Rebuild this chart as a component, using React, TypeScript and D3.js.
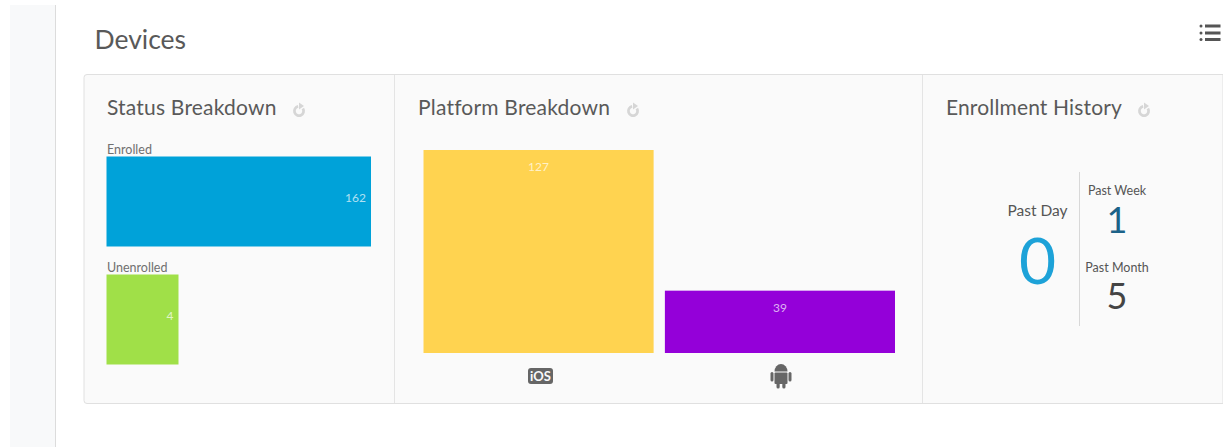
import React from "react";
import * as d3 from "d3";

const statusLabels = ["Enrolled", "Unenrolled"];
const statusValues = [162, 4];
const statusColors = ["#00a2d9", "#a0e048"];
const platformLabels = ["iOS", "Android"];
const platformValues = [127, 39];
const platformColors = ["#ffd350", "#9400d9"];
const historyItems = [
  { label: "Past Week", value: 1, color: "#1c6288" },
  { label: "Past Month", value: 5, color: "#444444" },
];
const pastDay = { label: "Past Day", value: 0 };

const FONT = "Lato, 'Noto Sans', sans-serif";
const TITLE = "#595959";

function Refresh({ x, y }: { x: number; y: number }) {
  const arc = d3.arc()({ innerRadius: 3.2, outerRadius: 6, startAngle: 1.0, endAngle: 6.1 }) as string;
  return (
    <g transform={`translate(${x},${y + 1})`} fill="#d6d6d6">
      <path d={arc} />
      <path d="M0,-8.5 L5,-5 L0,-1.5 Z" />
    </g>
  );
}

function AndroidIcon({ x, y }: { x: number; y: number }) {
  return (
    <g transform={`translate(${x},${y})`} fill="#666666">
      <path d="M-6.5,-3.5 A6.5,7.5 0 0 1 6.5,-3.5 Z" />
      <rect x={-6.5} y={-2.5} width={13} height={11.5} rx={1} />
      <rect x={-10.5} y={-3} width={3} height={9.5} rx={1.5} />
      <rect x={7.5} y={-3} width={3} height={9.5} rx={1.5} />
      <rect x={-4.5} y={8} width={3.2} height={5.5} rx={1.5} />
      <rect x={1.3} y={8} width={3.2} height={5.5} rx={1.5} />
    </g>
  );
}

export default function App() {
  const statusX = d3.scaleLinear().domain([4, 162]).range([72, 264.5]);
  const statusY = d3.scaleOrdinal<string, number>().domain(statusLabels).range([156.5, 274.5]);
  const platformX = d3.scaleBand().domain(platformLabels).range([423.5, 895]).paddingInner(0.0467);
  const platformH = d3.scaleLinear().domain([0, 127]).range([0, 203]);
  const baseY = 353;

  return (
    <svg
      width={1223}
      height={447}
      style={{ position: "absolute", left: 0, top: 0, fontFamily: FONT, background: "#fff" }}
    >
      <rect x={10} y={5} width={45} height={442} fill="#f8f9fa" />
      <line x1={55.5} x2={55.5} y1={5} y2={447} stroke="#dcdcdc" />

      <text x={94.5} y={49} fontSize={26.5} fill={TITLE}>Devices</text>
      <g fill="#555">
        {[26, 33, 39.5].map((y) => (
          <g key={y}>
            <rect x={1199.5} y={y - 1.5} width={3} height={3} rx={1.5} />
            <rect x={1205} y={y - 1.5} width={15.5} height={3} />
          </g>
        ))}
      </g>

      <path
        d="M1223,74.5 H87 a3,3 0 0 0 -3,3 V400.5 a3,3 0 0 0 3,3 H1223 Z"
        fill="#fafafa"
        stroke="#e0e0e0"
      />
      <line x1={394.5} x2={394.5} y1={75} y2={403} stroke="#e4e4e4" />
      <line x1={922.5} x2={922.5} y1={75} y2={403} stroke="#e4e4e4" />

      <text x={107} y={114.5} fontSize={21} letterSpacing={0.2} fill={TITLE}>Status Breakdown</text>
      <Refresh x={299} y={110} />
      <text x={418} y={114.5} fontSize={21} letterSpacing={0.2} fill={TITLE}>Platform Breakdown</text>
      <Refresh x={633} y={110} />
      <text x={946} y={114.5} fontSize={21} letterSpacing={0.15} fill={TITLE}>Enrollment History</text>
      <Refresh x={1144} y={110} />

      {statusLabels.map((label, i) => {
        const y = statusY(label);
        const w = statusX(statusValues[i]);
        return (
          <g key={label}>
            <text x={107} y={y - 3} fontSize={12.5} fill="#707070">{label}</text>
            <rect x={106.5} y={y} width={w} height={90} fill={statusColors[i]} />
            <text x={106.5 + w - 5} y={y + 45} fontSize={12} textAnchor="end" fill="#fff" fillOpacity={0.7}>
              {statusValues[i]}
            </text>
          </g>
        );
      })}

      {platformLabels.map((label, i) => {
        const x = platformX(label) as number;
        const h = platformH(platformValues[i]);
        return (
          <g key={label}>
            <rect x={x} y={baseY - h} width={platformX.bandwidth()} height={h} fill={platformColors[i]} />
            <text
              x={x + platformX.bandwidth() / 2}
              y={baseY - h + 21}
              fontSize={12}
              textAnchor="middle"
              fill="#fff"
              fillOpacity={0.7}
            >
              {platformValues[i]}
            </text>
          </g>
        );
      })}

      <rect x={528} y={368} width={25} height={16} rx={3} fill="#666" />
      <text x={540.5} y={381} fontSize={13} fontWeight={700} textAnchor="middle" fill="#fafafa">iOS</text>
      <AndroidIcon x={781} y={375} />

      <text x={1037.5} y={215.5} fontSize={15.5} textAnchor="middle" fill="#555">{pastDay.label}</text>
      <text x={1037.5} y={284} fontSize={64} textAnchor="middle" fill="#1da2d8">{pastDay.value}</text>
      <line x1={1079.5} x2={1079.5} y1={172} y2={326} stroke="#d8d8d8" />
      <text x={1117} y={195} fontSize={12.5} textAnchor="middle" fill="#555">{historyItems[0].label}</text>
      <text x={1117} y={233} fontSize={36} textAnchor="middle" fill={historyItems[0].color}>{historyItems[0].value}</text>
      <text x={1117} y={272} fontSize={12.5} textAnchor="middle" fill="#555">{historyItems[1].label}</text>
      <text x={1117} y={309} fontSize={36} textAnchor="middle" fill={historyItems[1].color}>{historyItems[1].value}</text>
    </svg>
  );
}
